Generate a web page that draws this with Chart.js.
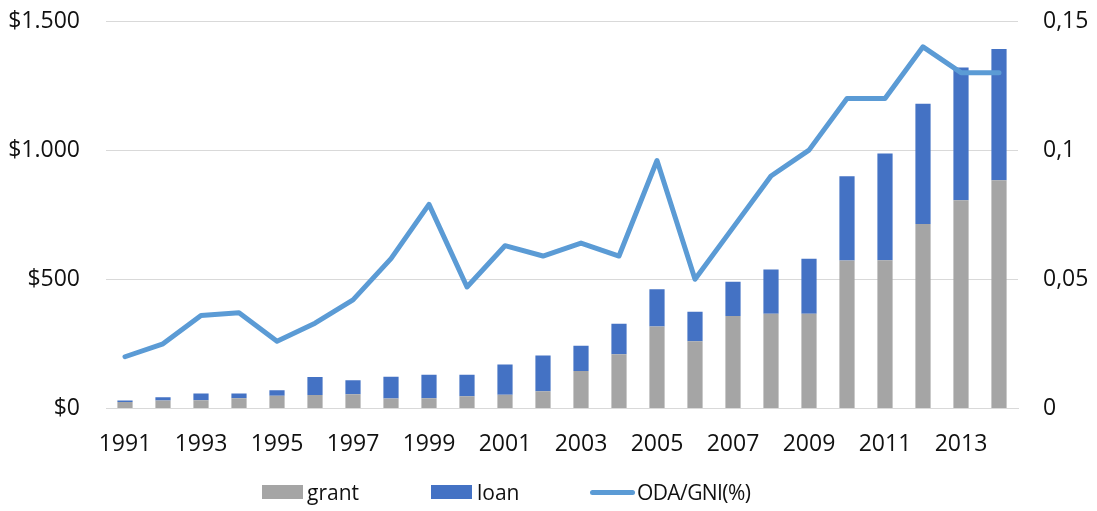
<!DOCTYPE html>
<html>
<head>
<meta charset="utf-8">
<script src="https://cdn.jsdelivr.net/npm/chart.js@4/dist/chart.umd.min.js"></script>
<style>
  html, body { margin: 0; padding: 0; background: #fff; }
  #wrap { position: relative; width: 1097px; height: 511px; }
  canvas { position: absolute; left: 0; top: 0; }
  .lg { position: absolute; top: 478px; height: 28px; font-family: "Open Sans", sans-serif; font-size: 21px; color: #111; line-height: 28px; white-space: nowrap; }
  .sw { position: absolute; }
</style>
</head>
<body>
<div id="wrap">
  <canvas id="c" width="1097" height="511"></canvas>
  <div class="lg" style="left:262px"><span class="sw" style="left:0;top:7px;width:41px;height:14px;background:#A5A5A5"></span><span style="position:absolute;left:45px;top:0">grant</span></div>
  <div class="lg" style="left:431px"><span class="sw" style="left:0;top:7px;width:41px;height:14px;background:#4472C4"></span><span style="position:absolute;left:46px;top:0">loan</span></div>
  <div class="lg" style="left:590px"><span class="sw" style="left:0;top:12px;width:45px;height:5px;border-radius:3px;background:#5B9BD5"></span><span style="position:absolute;left:47px;top:0;letter-spacing:-0.6px">ODA/GNI(%)</span></div>
</div>
<script>
const years = [1991,1992,1993,1994,1995,1996,1997,1998,1999,2000,2001,2002,2003,2004,2005,2006,2007,2008,2009,2010,2011,2012,2013,2014];
const grant = [25,31,32,39,49,52,55,38,39,47,53,66,145,210,317,260,358,366,366,573,574,714,806,883];
const loan  = [6,12,26,19,21,70,54,85,91,83,117,139,98,118,144,114,132,172,213,326,413,466,514,509];
const odaGni = [0.020,0.025,0.036,0.037,0.026,0.033,0.042,0.058,0.079,0.047,0.063,0.059,0.064,0.059,0.096,0.050,0.070,0.090,0.100,0.120,0.120,0.140,0.130,0.130];
const leftTicks = [0,500,1000,1500];
const rightTicks = [0,0.05,0.1,0.15];

const FONT = { family: "'Open Sans', sans-serif", size: 23 };
const TXT = '#111';

new Chart(document.getElementById('c'), {
  data: {
    labels: years,
    datasets: [
      { type: 'line', label: 'ODA/GNI(%)', data: odaGni, yAxisID: 'y2', order: 0,
        borderColor: '#5B9BD5', borderWidth: 5, pointRadius: 0, tension: 0,
        borderCapStyle: 'round', borderJoinStyle: 'round', fill: false },
      { type: 'bar', label: 'grant', data: grant, yAxisID: 'y', stack: 's', order: 1,
        backgroundColor: '#A5A5A5', barPercentage: 0.4, categoryPercentage: 1 },
      { type: 'bar', label: 'loan', data: loan, yAxisID: 'y', stack: 's', order: 1,
        backgroundColor: '#4472C4', barPercentage: 0.4, categoryPercentage: 1 }
    ]
  },
  options: {
    responsive: false,
    animation: false,
    layout: { padding: { left: 0, right: 0, top: 21, bottom: 31 } },
    plugins: { legend: { display: false }, tooltip: { enabled: false } },
    scales: {
      x: {
        stacked: true,
        grid: { display: false, drawTicks: false },
        border: { display: true, color: '#D9D9D9', width: 1 },
        afterFit: s => { s.paddingLeft = 0; s.paddingRight = 0; },
        ticks: {
          autoSkip: false, maxRotation: 0, padding: 22, color: TXT, font: FONT,
          callback: function(v, i) { return i % 2 === 0 ? String(years[i]) : ''; }
        }
      },
      y: {
        position: 'left', stacked: true, min: 0, max: 1500,
        afterFit: s => { s.width = 106; s.paddingTop = 0; s.paddingBottom = 0; },
        afterBuildTicks: s => { s.ticks = leftTicks.map(v => ({ value: v })); },
        grid: { color: '#D9D9D9', lineWidth: 1, drawTicks: false },
        border: { display: false },
        ticks: { padding: 26, color: TXT, font: FONT,
          callback: v => '$' + v.toString().replace(/\B(?=(\d{3})+(?!\d))/g, '.') }
      },
      y2: {
        position: 'right', min: 0, max: 0.15,
        afterFit: s => { s.width = 79; s.paddingTop = 0; s.paddingBottom = 0; },
        afterBuildTicks: s => { s.ticks = rightTicks.map(v => ({ value: v })); },
        grid: { display: false, drawTicks: false },
        border: { display: false },
        ticks: { padding: 25, color: TXT, font: FONT,
          callback: v => String(Number(v.toFixed(2))).replace('.', ',') }
      }
    }
  }
});
</script>
</body>
</html>
